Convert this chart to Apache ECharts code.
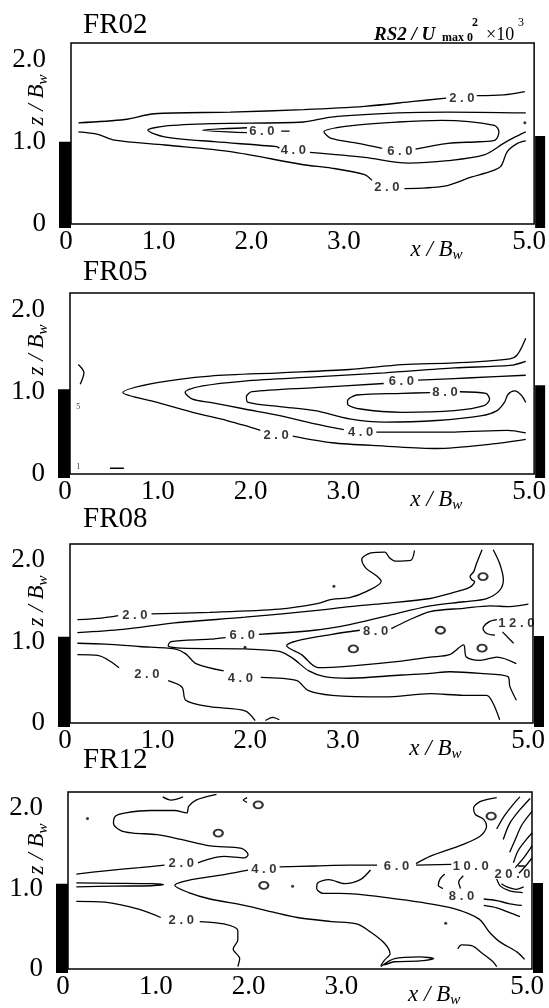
<!DOCTYPE html>
<html><head><meta charset="utf-8">
<script src="https://cdn.jsdelivr.net/npm/echarts@6/dist/echarts.min.js"></script>
<style>html,body{margin:0;padding:0;background:#fff}#c{width:549px;height:1008px}</style>
</head><body><div id="c"></div>
<script>
const panelNames = ['FR02', 'FR05', 'FR08', 'FR12'];
const xTickLabels = ['0', '1.0', '2.0', '3.0', 'x / Bw', '5.0'];
const yTickLabels = { 0: '0', 1: '1.0', 2: '2.0' };
const wallLeftTop = [1.0, 1.03, 1.06, 1.06];
const wallRightTop = [1.07, 1.08, 1.07, 1.07];
const wallBottom = -0.05;

// ---- FR02 contour polylines [x/Bw, z/Bw]
const fr02Lines = [
  [[0.08,1.23],[0.58,1.27],[0.9,1.34],[1.72,1.36],[2.51,1.39],[3.17,1.43],[3.7,1.49],[4.05,1.53]],
  [[4.38,1.56],[4.67,1.57],[4.9,1.61]],
  [[2.25,0.92],[2.22,0.94],[1.55,1.0],[1.01,1.06],[0.83,1.14],[1.01,1.19],[1.55,1.22],[2.51,1.24],[2.81,1.3],[3.53,1.35],[4.07,1.36],[4.91,1.35]],
  [[2.58,0.87],[3.17,0.81],[3.64,0.74],[4.07,0.77],[4.46,0.84],[4.67,0.98],[4.78,1.05],[4.91,1.12]],
  [[0.08,1.12],[0.29,1.09],[0.47,1.02],[1.01,0.96],[1.72,0.88],[2.51,0.72],[2.81,0.68],[3.17,0.6],[3.25,0.53]],
  [[3.6,0.43],[4.03,0.46],[4.32,0.57],[4.53,0.64],[4.64,0.7],[4.71,0.88],[4.82,0.98],[4.91,1.01]],
  [[1.9,1.17],[1.42,1.14],[1.9,1.11]],
  [[2.27,1.13],[2.36,1.13]],
  [[3.72,0.91],[4.07,0.98],[4.4,1.0],[4.58,1.02],[4.62,1.12],[4.57,1.2],[4.0,1.26],[3.53,1.24],[2.99,1.19],[2.73,1.12],[2.81,1.04],[3.1,0.98],[3.36,0.92]]
];
const fr02Labels = [[4.22,1.53,'2 . 0'],[2.06,1.12,'6 . 0'],[2.4,0.9,'4 . 0'],[3.55,0.88,'6 . 0'],[3.41,0.45,'2 . 0']];
const fr02Dots = [[4.9,1.23]];
const fr02Loops = [];

// ---- FR05
const fr05Lines = [
  [[4.91,1.65],[4.82,1.45],[4.74,1.4],[4.14,1.35],[3.58,1.33],[3.01,1.27],[2.26,1.23],[1.51,1.19],[0.94,1.11],[0.57,0.99],[0.94,0.87],[1.32,0.75],[1.69,0.65],[1.88,0.59],[2.05,0.53]],
  [[2.4,0.46],[2.82,0.38],[3.39,0.34],[3.95,0.31],[4.52,0.36],[4.91,0.42]],
  [[4.91,1.37],[4.74,1.32],[4.14,1.29],[3.39,1.23],[2.64,1.18],[1.88,1.13],[1.43,1.07],[1.24,0.99],[1.32,0.91],[1.51,0.87],[1.88,0.79],[2.26,0.71],[2.64,0.61],[2.95,0.54]],
  [[3.3,0.51],[4.14,0.51],[4.71,0.53],[4.91,0.5]],
  [[4.91,1.2],[4.33,1.17],[3.75,1.14]],
  [[3.38,1.1],[2.64,1.05],[1.96,1.0],[1.9,0.94],[1.92,0.87],[2.26,0.82],[2.64,0.77],[3.01,0.67],[3.39,0.63],[3.95,0.65],[4.44,0.71],[4.6,0.77],[4.68,0.87],[4.72,0.97],[4.79,1.01],[4.86,0.96],[4.91,0.87]],
  [[3.88,0.99],[3.58,0.98],[3.09,0.96],[2.99,0.89],[2.99,0.85],[3.13,0.79],[3.58,0.75],[4.14,0.77],[4.46,0.83],[4.52,0.91],[4.48,0.98],[4.2,1.0]],
  [[0.09,1.33],[0.15,1.23],[0.11,1.09]],
  [[0.43,0.07],[0.58,0.07]]
];
const fr05Labels = [[2.22,0.47,'2 . 0'],[3.13,0.51,'4 . 0'],[3.57,1.12,'6 . 0'],[4.04,0.99,'8 . 0']];
const fr05Tiny = [[0.09,0.81,'5'],[0.09,0.09,'1']];
const fr05Dots = [];
const fr05Loops = [];

// ---- FR08
const fr08Lines = [
  [[0.08,1.27],[0.34,1.29],[0.52,1.32]],
  [[0.88,1.34],[1.51,1.36],[2.26,1.4],[2.64,1.46],[2.83,1.52],[3.02,1.54],[3.21,1.62],[3.36,1.74],[3.32,1.8],[3.19,1.91],[3.15,2.01],[3.25,2.09],[3.4,2.1],[3.45,2.03],[3.51,1.99],[3.68,2.0],[3.72,2.12]],
  [[4.45,2.13],[4.39,1.96],[4.36,1.86],[4.32,1.8],[4.34,1.76],[4.37,1.74],[4.32,1.67],[4.1,1.59],[3.89,1.53],[3.4,1.47],[3.02,1.43],[2.64,1.38],[1.89,1.3],[1.13,1.23],[0.57,1.15],[0.08,1.11]],
  [[4.57,2.13],[4.64,1.96],[4.68,1.76],[4.64,1.63],[4.5,1.53],[4.25,1.49],[3.89,1.44],[3.4,1.31],[3.02,1.21],[2.64,1.14],[2.04,1.09]],
  [[1.68,1.05],[1.51,1.03],[1.09,1.0],[1.06,0.95],[1.2,0.92],[1.89,0.91],[2.26,0.88],[2.4,0.8],[2.58,0.64],[2.75,0.57],[3.02,0.55],[3.58,0.59],[3.89,0.61],[4.1,0.63],[4.43,0.61],[4.73,0.57],[4.75,0.45],[4.82,0.28]],
  [[4.95,1.46],[4.75,1.43],[4.54,1.44],[4.25,1.41],[3.89,1.37],[3.65,1.26],[3.47,1.16]],
  [[3.13,1.14],[2.83,1.09],[2.45,1.01],[2.34,0.95],[2.5,0.84],[2.68,0.68],[3.02,0.7],[3.58,0.76],[3.89,0.81],[4.1,0.84],[4.25,0.96],[4.28,0.81],[4.43,0.77],[4.61,0.81],[4.82,0.73]],
  [[0.08,0.98],[0.38,0.97],[0.75,0.94],[1.13,0.91],[1.25,0.85],[1.36,0.73],[1.66,0.64]],
  [[2.06,0.56],[2.45,0.52],[2.57,0.4],[2.83,0.34],[3.4,0.32],[3.89,0.36],[4.25,0.34],[4.5,0.34],[4.57,0.24],[4.64,0.04]],
  [[0.08,0.84],[0.3,0.83],[0.53,0.68]],
  [[1.06,0.52],[1.21,0.44],[1.25,0.28],[1.51,0.2],[1.89,0.15],[2.0,0.03]],
  [[2.11,0.03],[2.19,0.07],[2.26,0.04]],
  [[4.61,1.27],[4.52,1.24],[4.46,1.16],[4.5,1.1],[4.59,1.08]],
  [[4.67,1.12],[4.79,0.98]]
];
const fr08Labels = [[0.7,1.32,'2 . 0'],[0.83,0.6,'2 . 0'],[1.84,0.55,'4 . 0'],[1.86,1.08,'6 . 0'],[3.3,1.13,'8 . 0'],[4.82,1.22,'1 2 . 0']];
const fr08Dots = [[2.85,1.68],[1.89,0.93]];
const fr08Loops = [[4.0,1.14],[4.45,0.92],[4.46,1.8],[3.06,0.91]];

// ---- FR12
const fr12Lines = [
  [[1.6,2.17],[1.38,2.1],[1.3,2.02],[1.28,1.94],[1.15,1.97],[0.89,1.97],[0.62,1.94],[0.51,1.9],[0.49,1.81],[0.57,1.72],[0.7,1.69],[0.96,1.67],[1.22,1.61],[1.53,1.53],[1.87,1.5],[1.94,1.42],[1.9,1.38],[1.68,1.4],[1.53,1.37],[1.4,1.32]],
  [[1.04,1.29],[0.77,1.26],[0.4,1.22],[0.09,1.18]],
  [[1.02,2.14],[1.11,2.1],[1.24,2.14]],
  [[0.09,1.07],[0.5,1.065],[0.9,1.06],[1.03,1.05],[0.9,1.035],[0.5,1.03],[0.09,1.02]],
  [[0.09,0.84],[0.4,0.83],[0.77,0.74],[1.0,0.64]],
  [[1.42,0.59],[1.68,0.56],[1.83,0.48],[1.83,0.36],[1.78,0.25],[1.85,0.13],[1.83,0.03]],
  [[1.94,1.23],[1.71,1.18],[1.38,1.12],[1.22,1.08],[1.15,1.04],[1.3,0.95],[1.53,0.87],[1.9,0.79],[2.2,0.71],[2.47,0.64],[2.84,0.59],[3.11,0.56],[3.26,0.46],[3.41,0.32],[3.47,0.19],[3.41,0.11],[3.37,0.04]],
  [[2.28,1.27],[2.66,1.28],[3.03,1.29],[3.33,1.29]],
  [[3.75,1.29],[4.13,1.3]],
  [[3.75,1.31],[3.9,1.4],[4.26,1.55],[4.44,1.65],[4.51,1.77],[4.48,1.86],[4.39,1.92],[4.37,2.0],[4.44,2.08],[4.62,2.13]],
  [[3.26,1.23],[3.15,1.11],[2.98,1.06],[2.81,1.11],[2.69,1.07],[2.68,1.0],[2.75,0.94],[2.92,0.94],[3.11,0.93],[3.41,0.89],[3.79,0.83],[4.16,0.75],[4.43,0.62],[4.54,0.46],[4.65,0.34],[4.84,0.21],[4.92,0.12]],
  [[3.37,0.03],[3.52,0.13],[3.79,0.15],[3.94,0.13],[3.79,0.1],[3.52,0.09],[3.41,0.05]],
  [[4.2,0.25],[4.24,0.3],[4.35,0.29],[4.47,0.19],[4.58,0.09],[4.62,0.03]],
  [[4.62,1.74],[4.7,1.9],[4.8,2.05],[4.87,2.14]],
  [[4.69,1.61],[4.76,1.81],[4.87,1.98],[4.98,2.12]],
  [[4.76,1.45],[4.82,1.61],[4.89,1.79],[5.0,1.96]],
  [[4.8,1.32],[4.85,1.47],[4.94,1.61],[5.0,1.69]],
  [[4.82,1.26],[4.91,1.38],[5.0,1.53]],
  [[4.86,1.19],[4.93,1.28],[5.0,1.38]],
  [[4.06,1.18],[4.01,1.12],[3.99,1.04],[4.04,1.0]],
  [[4.26,1.16],[4.21,1.08],[4.23,1.0]],
  [[4.62,1.12],[4.66,1.03],[4.76,0.97],[4.9,0.95]],
  [[4.67,1.06],[4.73,1.02],[4.83,0.99],[4.91,1.02]],
  [[4.48,0.87],[4.62,0.85],[4.76,0.81],[4.89,0.79]],
  [[4.48,0.79],[4.62,0.76],[4.76,0.7],[4.87,0.65]],
  [[4.85,1.28],[4.92,1.28]],
  [[1.93,2.13],[1.89,2.1],[1.93,2.07]]
];
const fr12Labels = [[1.22,1.31,'2 . 0'],[1.22,0.6,'2 . 0'],[2.11,1.24,'4 . 0'],[3.54,1.28,'6 . 0'],[4.34,1.28,'1 0 . 0'],[4.79,1.18,'2 0 . 0'],[4.24,0.9,'8 . 0']];
const fr12Dots = [[0.21,1.87],[2.42,1.03],[4.07,0.57]];
const fr12Loops = [[1.62,1.69],[2.11,1.04],[2.05,2.04],[4.56,1.9]];

const panelLines = [fr02Lines, fr05Lines, fr08Lines, fr12Lines];
const panelLabels = [fr02Labels, fr05Labels, fr08Labels, fr12Labels];
const panelTiny = [[], fr05Tiny, [], []];
const panelDots = [fr02Dots, fr05Dots, fr08Dots, fr12Dots];
const panelLoops = [fr02Loops, fr05Loops, fr08Loops, fr12Loops];

// ---- layout (pixels)
const gridBoxes = [
  { left: 71, top: 43, width: 466, height: 181 },
  { left: 70, top: 293, width: 465, height: 181 },
  { left: 70, top: 544, width: 463, height: 179 },
  { left: 68, top: 792, width: 464, height: 179 }
];
const titleTops = [11, 258, 505, 746];
const serif = '"Liberation Serif", "Times New Roman", serif';

const chart = echarts.init(document.getElementById('c'), null, { renderer: 'canvas' });

const grids = [], xAxes = [], yAxes = [], series = [], titles = [], graphics = [];
gridBoxes.forEach((g, p) => {
  grids.push(Object.assign({ show: true, borderColor: '#000', borderWidth: 1.5, backgroundColor: 'transparent', containLabel: false }, g));
  xAxes.push({
    type: 'value', gridIndex: p, min: 0, max: 5, interval: 1,
    axisLine: { show: false }, axisTick: { show: false }, splitLine: { show: false },
    axisLabel: {
      margin: 4, color: '#000', fontFamily: serif, fontSize: 27, padding: [0, 10, 0, 0],
      formatter: (v) => {
        const s = xTickLabels[Math.round(v)] || '';
        if (s === 'x / Bw') return '{m|x / B}{s|w}';
        return s;
      },
      rich: {
        m: { fontFamily: serif, fontStyle: 'italic', fontSize: 23, color: '#000', padding: [8, 0, 0, 0] },
        s: { fontFamily: serif, fontStyle: 'italic', fontSize: 15, color: '#000', padding: [20, 0, 0, 0] }
      }
    }
  });
  yAxes.push({
    type: 'value', gridIndex: p, min: 0, max: 2.2, interval: 1,
    axisLine: { show: false }, axisTick: { show: false }, splitLine: { show: false },
    axisLabel: {
      margin: 25, color: '#000', fontFamily: serif, fontSize: 27,
      formatter: (v) => (yTickLabels[v] !== undefined ? yTickLabels[v] : '')
    }
  });
  titles.push({
    text: panelNames[p], left: 83, top: titleTops[p], padding: 0,
    textStyle: { fontFamily: serif, fontSize: 29, fontWeight: 'normal', color: '#000' }
  });
  graphics.push({
    type: 'text', x: 37, y: g.top + 57, rotation: Math.PI / 2,
    style: {
      text: '{m|z / B}{s|w}', align: 'center', verticalAlign: 'middle', fill: '#000',
      rich: {
        m: { fontFamily: serif, fontStyle: 'italic', fontSize: 23, fill: '#000' },
        s: { fontFamily: serif, fontStyle: 'italic', fontSize: 15, fill: '#000', padding: [12, 0, 0, 0] }
      }
    }
  });

  panelLines[p].forEach((seg) => {
    series.push({
      type: 'line', xAxisIndex: p, yAxisIndex: p, data: seg, symbol: 'none', smooth: 0.3,
      lineStyle: { color: '#000', width: 1.3 }, silent: true, animation: false
    });
  });
  series.push({
    type: 'scatter', xAxisIndex: p, yAxisIndex: p, data: panelLabels[p], symbolSize: 0, silent: true, animation: false,
    label: { show: true, position: 'inside', formatter: (d) => d.data[2], color: '#000', fontFamily: '"Liberation Sans", Arial, sans-serif', fontWeight: 'bold', fontSize: 13 }
  });
  if (panelTiny[p].length) series.push({
    type: 'scatter', xAxisIndex: p, yAxisIndex: p, data: panelTiny[p], symbolSize: 0, silent: true, animation: false,
    label: { show: true, position: 'inside', formatter: (d) => d.data[2], color: '#000', fontFamily: serif, fontSize: 8 }
  });
  series.push({
    type: 'scatter', xAxisIndex: p, yAxisIndex: p, data: panelDots[p], symbol: 'circle', symbolSize: 3,
    itemStyle: { color: '#000' }, silent: true, animation: false
  });
  series.push({
    type: 'scatter', xAxisIndex: p, yAxisIndex: p, data: panelLoops[p], symbol: 'emptyCircle', symbolSize: [9, 7],
    itemStyle: { color: '#000', borderColor: '#000', borderWidth: 1.2 }, silent: true, animation: false
  });
  series.push({
    type: 'custom', xAxisIndex: p, yAxisIndex: p, clip: false, silent: true, animation: false,
    data: [[0, wallLeftTop[p]], [5, wallRightTop[p]]],
    encode: { x: 0, y: 1 },
    renderItem: (params, api) => {
      const x = api.value(0), top = api.value(1);
      const a = api.coord([x, top]);
      const b = api.coord([x, wallBottom]);
      const left = x === 0;
      const w = left ? 12 : 10;
      return { type: 'rect', shape: { x: left ? a[0] - w : a[0] + 1, y: a[1], width: w, height: b[1] - a[1] }, style: { fill: '#000' } };
    }
  });
});

graphics.push(
  { type: 'text', x: 374, y: 26, style: { text: 'RS2 / U', fill: '#000', font: 'italic bold 19px ' + serif, verticalAlign: 'alphabetic' } },
  { type: 'text', x: 442, y: 32, style: { text: 'max 0', fill: '#000', font: 'bold 12px ' + serif, verticalAlign: 'alphabetic' } },
  { type: 'text', x: 472, y: 17, style: { text: '2', fill: '#000', font: 'bold 12px ' + serif, verticalAlign: 'alphabetic' } },
  { type: 'text', x: 486, y: 26, style: { text: '×10', fill: '#000', font: '18px ' + serif, verticalAlign: 'alphabetic' } },
  { type: 'text', x: 518, y: 17, style: { text: '3', fill: '#000', font: '12px ' + serif, verticalAlign: 'alphabetic' } }
);

chart.setOption({
  animation: false,
  backgroundColor: '#fff',
  title: titles,
  grid: grids,
  xAxis: xAxes,
  yAxis: yAxes,
  series: series,
  graphic: graphics
});
</script>
</body></html>
